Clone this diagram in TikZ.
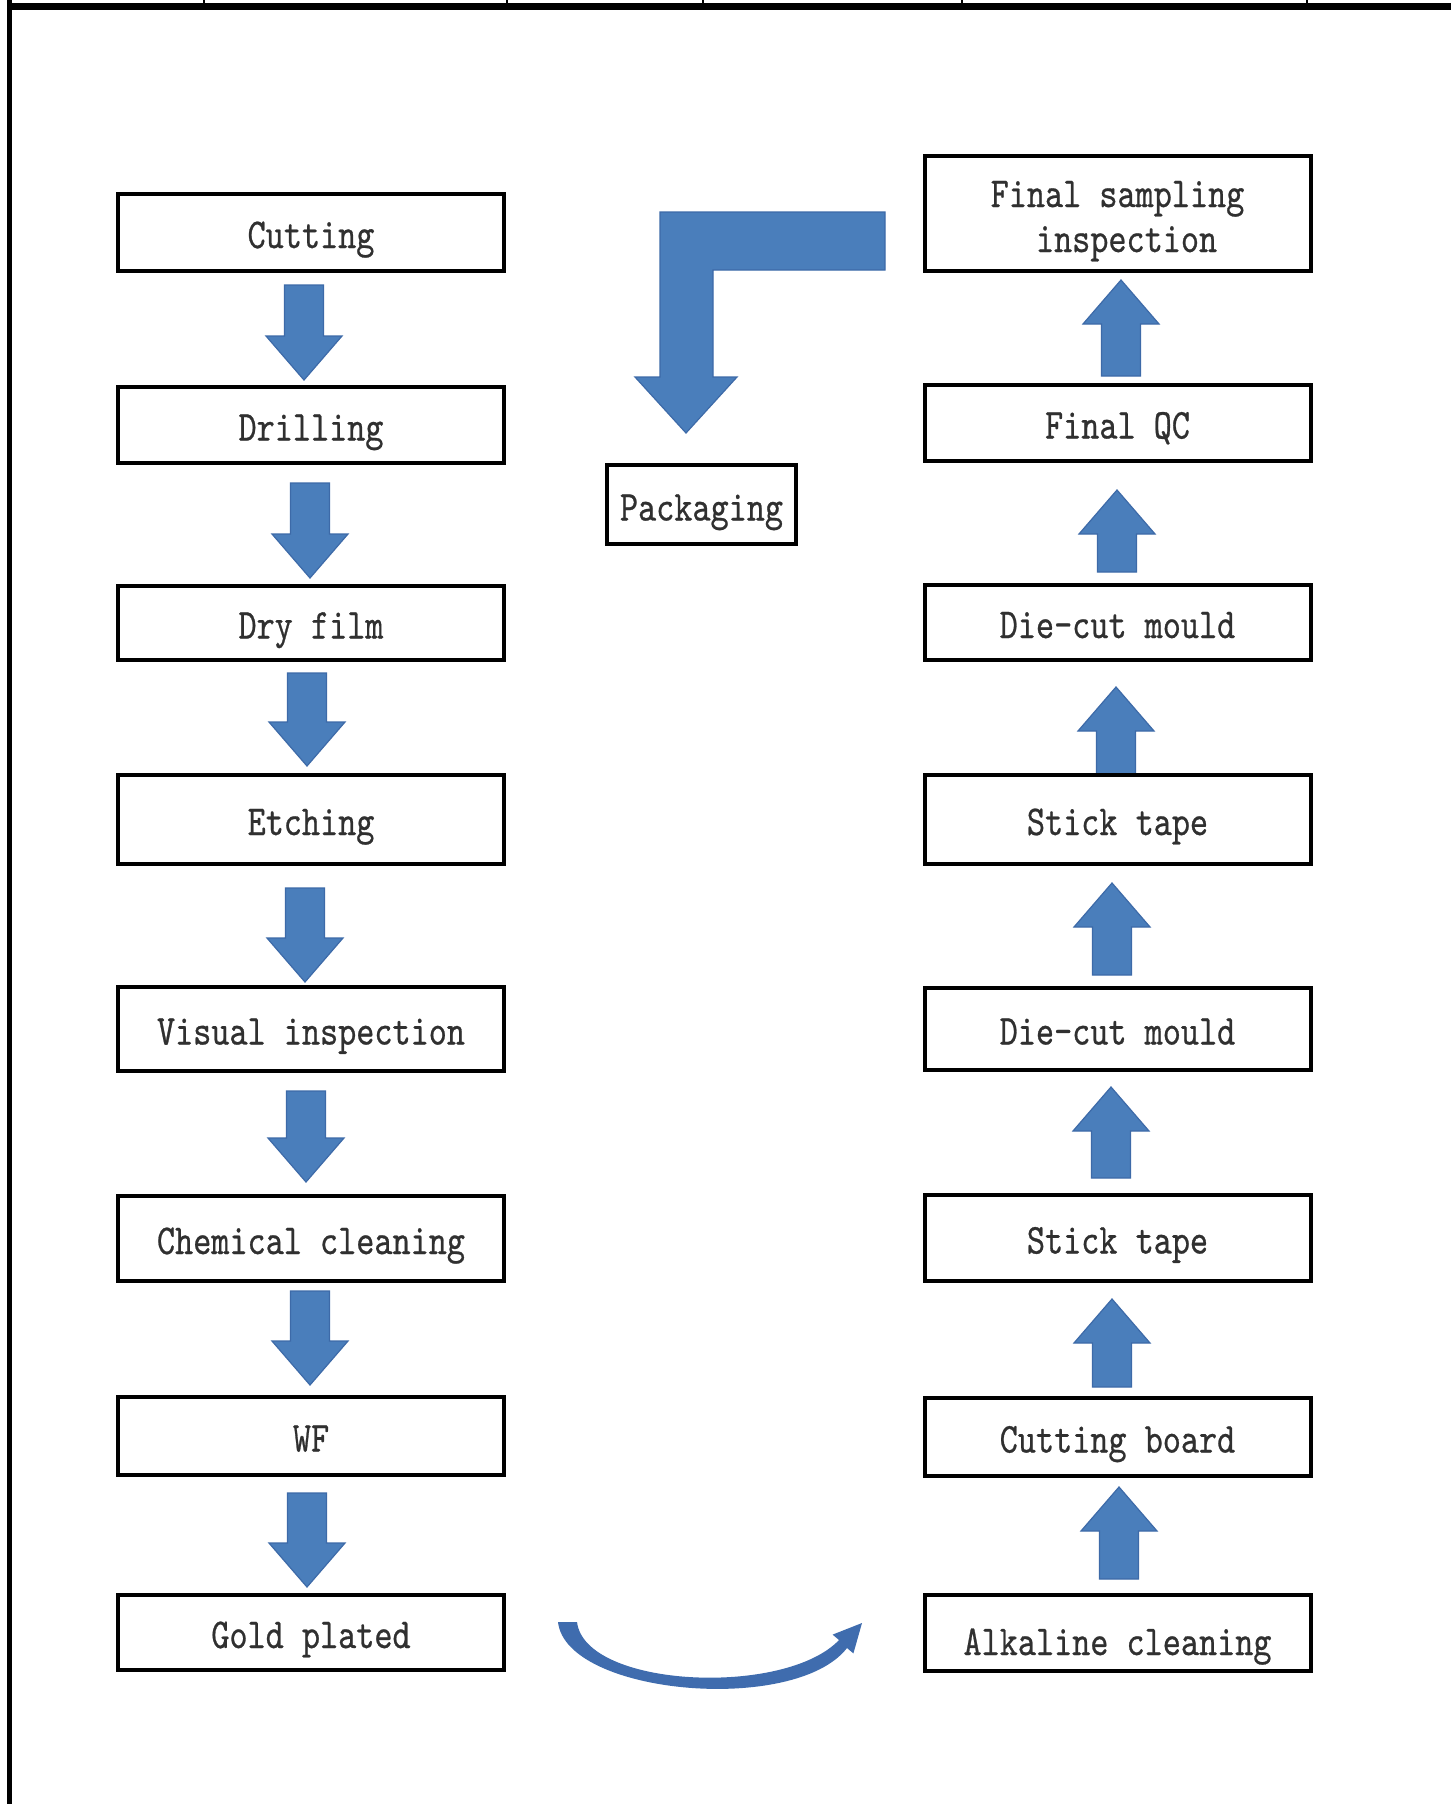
\documentclass[tikz,border=0pt]{standalone}
\usepackage{fontspec}
\newfontfamily\boxfont[FakeStretch=0.81,FakeBold=0.6]{lmmono10-regular.otf}
\usetikzlibrary{calc}
\definecolor{arrfill}{HTML}{4A7EBB}
\definecolor{arrline}{HTML}{3D6AA8}
\definecolor{curvecol}{HTML}{3F6CAE}
\definecolor{txt}{HTML}{303030}
% down block arrow: centre x, shaft top y, tip y
\newcommand\bdown[3]{\draw[barrow] ({#1-19.5},#2) -- ({#1+19.5},#2) -- ({#1+19.5},{#3-44}) -- ({#1+38},{#3-44}) -- (#1,#3) -- ({#1-38},{#3-44}) -- ({#1-19.5},{#3-44}) -- cycle;}
% up block arrow: centre x, shaft bottom y, tip y
\newcommand\bup[3]{\draw[barrow] ({#1-19.5},#2) -- ({#1+19.5},#2) -- ({#1+19.5},{#3+44}) -- ({#1+38},{#3+44}) -- (#1,#3) -- ({#1-38},{#3+44}) -- ({#1-19.5},{#3+44}) -- cycle;}
\begin{document}
\begin{tikzpicture}[x=0.5pt,y=-0.5pt,
  box/.style={draw=black, line width=2pt, fill=white, inner sep=0pt,
    minimum width=193pt, text height=15.5pt, text depth=0pt, text=txt,
    font=\boxfont\fontsize{21.3}{22.5}\selectfont},
  barrow/.style={fill=arrfill, draw=arrline, line width=0.6pt, line join=miter}]
\useasboundingbox (0,0) rectangle (1451,1804);
\fill[white] (0,0) rectangle (1451,1804);

% frame
\draw[line width=2.5pt] (9.5,0) -- (9.5,1804);
\draw[line width=3.5pt] (7,6.5) -- (1451,6.5);
\foreach \tx in {204,507,703,962,1307} \draw[line width=1pt] (\tx,0) -- (\tx,5);

% block arrows, left column (down)
\bdown{304}{285}{380}
\bdown{310}{483}{578}
\bdown{307}{673}{766}
\bdown{305}{888}{982}
\bdown{306}{1091}{1182}
\bdown{310}{1291}{1385}
\bdown{307}{1493}{1587}

% block arrows, right column (up)
\bup{1121}{376}{280}
\bup{1117}{572}{490}
\bup{1116}{775}{687}
\bup{1112}{975}{883}
\bup{1111}{1178}{1087}
\bup{1112}{1387}{1299}
\bup{1119}{1579}{1487}

% left column
\node[box, minimum height=38.5pt] (cut)   at (311,232.5)  {Cutting};
\node[box, minimum height=38pt]   (drill) at (311,425)    {Drilling};
\node[box, minimum height=37pt]   (dry)   at (311,623)    {Dry film};
\node[box, minimum height=44.5pt] (etch)  at (311,819.5)  {Etching};
\node[box, minimum height=42pt]   (vis)   at (311,1029)   {Visual inspection};
\node[box, minimum height=42.5pt] (chem)  at (311,1238.5) {Chemical cleaning};
\node[box, minimum height=39pt]   (wf)    at (311,1436)   {WF};
\node[box, minimum height=37.5pt] (gold)  at (311,1632.5) {Gold plated};

% right column
\node[box, minimum height=57.5pt, align=center, text height=38.5pt] (fsi) at (1117.5,213.5) {Final sampling\\\hphantom{x}inspection};
\node[box, minimum height=38pt]   (fqc)   at (1117.5,423)    {Final QC};
\node[box, minimum height=37.5pt] (die1)  at (1117.5,622.5)  {Die-cut mould};
\node[box, minimum height=44.5pt] (st1)   at (1117.5,819.5)  {Stick tape};
\node[box, minimum height=41pt]   (die2)  at (1117.5,1029)   {Die-cut mould};
\node[box, minimum height=43pt]   (st2)   at (1117.5,1238)   {Stick tape};
\node[box, minimum height=39pt]   (cb)    at (1117.5,1437)   {Cutting board};
\node[box, minimum height=38pt, text height=22pt] (alk) at (1117.5,1633) {Alkaline cleaning};

% packaging
\node[box, minimum width=94.5pt, minimum height=39.5pt, text height=16pt] (pack) at (701.5,504.5) {Packaging};

% L-shaped arrow towards packaging
\draw[barrow] (885,212) -- (660,212) -- (660,377) -- (635,377) -- (686,433) -- (737,377) -- (713,377) -- (713,270) -- (885,270) -- cycle;

% curved arrow from gold plated to alkaline cleaning
\fill[curvecol] (558,1622) .. controls (566,1695) and (795,1715) .. (847,1648)
  -- (853.4,1653.4) -- (862,1623) -- (832.6,1634.6) -- (839,1640)
  .. controls (785,1697) and (585,1688) .. (577,1622) -- cycle;
\end{tikzpicture}
\end{document}
